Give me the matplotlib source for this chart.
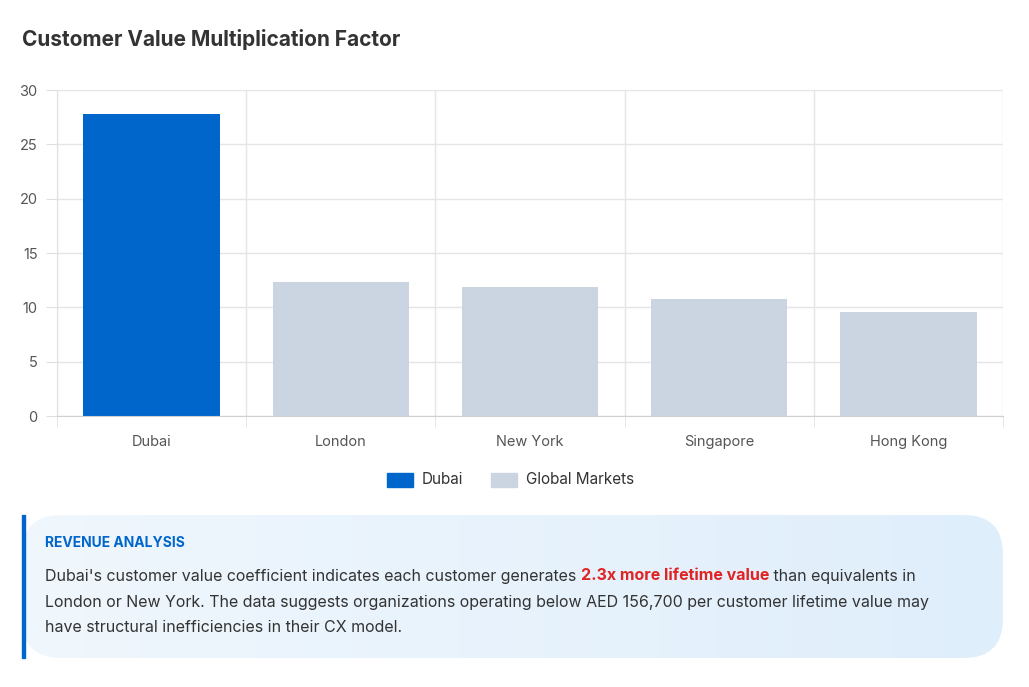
import matplotlib
matplotlib.use("Agg")
import matplotlib.pyplot as plt
import numpy as np
from matplotlib.patches import FancyBboxPatch, Rectangle

cities = ["Dubai", "London", "New York", "Singapore", "Hong Kong"]
values = [27.8, 12.3, 11.9, 10.8, 9.6]
colors = ["#0066cc", "#cbd5e1", "#cbd5e1", "#cbd5e1", "#cbd5e1"]
yticks = [0, 5, 10, 15, 20, 25, 30]

plt.rcParams['font.family'] = ['Inter', 'DejaVu Sans']
W, H = 1029, 687
fig = plt.figure(figsize=(W/100, H/100), dpi=100)
fig.patch.set_facecolor("white")

fig.text(22/W, 1-40/H, "Customer Value Multiplication Factor", fontsize=15, fontweight="bold",
         color="#333333", va="center")

ax = fig.add_axes([57/W, 1-416/H, 946/W, 326/H])
x = np.arange(len(cities))
ax.bar(x, values, width=0.72, color=colors, zorder=2)
ax.set_xlim(-0.5, len(cities)-0.5)
ax.set_ylim(0, 30)
ax.set_yticks(yticks)
ax.set_xticks(x)
ax.set_xticklabels(cities)
ax.set_xticks(np.arange(-0.5, len(cities), 1), minor=True)
ax.grid(True, which="minor", axis="x", color="#e5e5e5", lw=1)
ax.grid(True, which="major", axis="y", color="#e5e5e5", lw=1)
ax.tick_params(axis="x", which="major", length=0, pad=14, labelsize=10.5, colors="#555555")
ax.tick_params(axis="x", which="minor", length=8, color="#e0e0e0")
ax.tick_params(axis="y", length=8, color="#e0e0e0", labelsize=10.5, colors="#555555", pad=6)
for s in ["top", "right"]:
    ax.spines[s].set_visible(False)
ax.spines["left"].set_color("#e0e0e0")
ax.spines["bottom"].set_color("#d0d0d0")

# legend
for lx, label, c in [(387, "Dubai", "#0066cc"), (491, "Global Markets", "#cbd5e1")]:
    fig.patches.append(Rectangle((lx/W, 1-487/H), 26/W, 14/H, transform=fig.transFigure,
                                 color=c))
    fig.text((lx+35)/W, 1-480/H, label, fontsize=11, color="#333333", va="center")

# info box with gradient
bx0, bx1, by0, by1 = 22/W, 1003/W, 1-658/H, 1-515/H
grad = np.linspace(0, 1, 256).reshape(1, -1)
from matplotlib.colors import LinearSegmentedColormap
cmap = LinearSegmentedColormap.from_list("g", ["#f0f7fd", "#dfeefb"])
gax = fig.add_axes([bx0, by0, bx1-bx0, by1-by0])
gax.imshow(grad, aspect="auto", cmap=cmap, extent=[0, 1, 0, 1])
gax.axis("off")
clip = FancyBboxPatch((0, 0), 1, 1, boxstyle="round,pad=0,rounding_size=0.04",
                      transform=gax.transAxes, facecolor="none", edgecolor="none",
                      mutation_aspect=(W*(bx1-bx0))/(H*(by1-by0)))
gax.add_patch(clip)
gax.images[0].set_clip_path(clip)
fig.patches.append(Rectangle((bx0, by0), 3/W, by1-by0, transform=fig.transFigure, color="#0066cc"))

fig.text(45/W, 1-543/H, "REVENUE ANALYSIS", fontsize=10, fontweight="bold", color="#0066cc", va="center")
lines_y = [576, 602, 628]
t1 = fig.text(45/W, 1-lines_y[0]/H, "Dubai's customer value coefficient indicates each customer generates ",
              fontsize=11.5, color="#333333", va="center")
fig.canvas.draw()
r = fig.canvas.get_renderer()
bb = t1.get_window_extent(r)
t2 = fig.text(bb.x1/W, 1-lines_y[0]/H, "2.3x more lifetime value", fontsize=11.5, fontweight="bold",
              color="#e02424", va="center")
bb2 = t2.get_window_extent(r)
fig.text(bb2.x1/W, 1-lines_y[0]/H, " than equivalents in", fontsize=11.5, color="#333333", va="center")
fig.text(45/W, 1-lines_y[1]/H, "London or New York. The data suggests organizations operating below AED 156,700 per customer lifetime value may",
         fontsize=11.5, color="#333333", va="center")
fig.text(45/W, 1-lines_y[2]/H, "have structural inefficiencies in their CX model.", fontsize=11.5, color="#333333", va="center")

fig.savefig("out.png", dpi=100, facecolor="white")
